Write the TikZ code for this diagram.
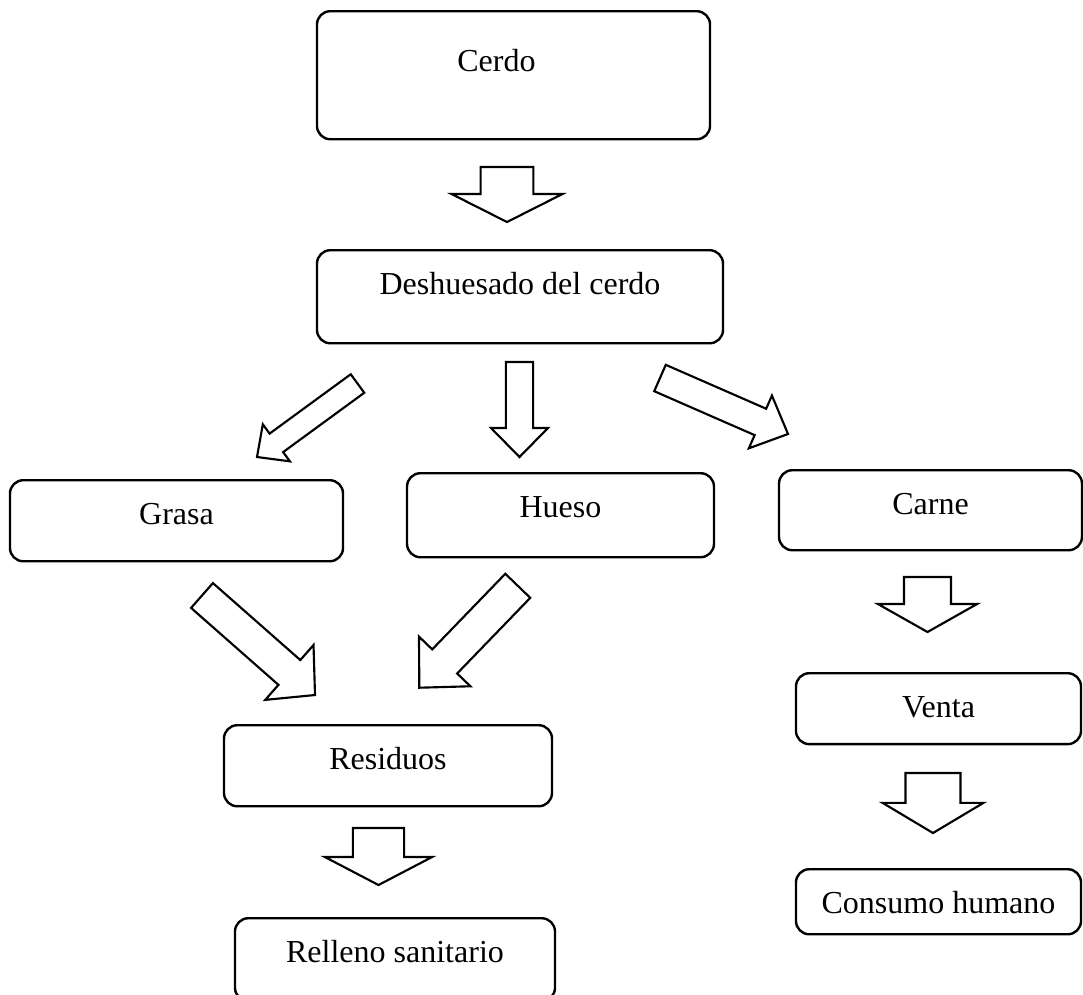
\documentclass[tikz,border=0pt]{standalone}
\usepackage{fontspec}
\setmainfont{Liberation Serif}
\usetikzlibrary{calc}

% block arrow: tail, tip, half shaft, half head, head length
\newcommand{\bigarrow}[5]{%
  \draw[blockarrow] ($(#1)!#3!90:(#2)$) -- ($(#2)!#5!(#1)!#3!-90:(#1)$)
    -- ($(#2)!#5!(#1)!#4!-90:(#1)$) -- (#2)
    -- ($(#2)!#5!(#1)!#4!90:(#1)$) -- ($(#2)!#5!(#1)!#3!90:(#1)$)
    -- ($(#1)!#3!-90:(#2)$) -- cycle;}

\begin{document}
\begin{tikzpicture}[x=0.375pt, y=-0.375pt,
  box/.style={draw, line width=0.9pt, rounded corners=5pt, inner sep=0pt,
    text height=16.5pt, anchor=north, font=\fontsize{12}{14}\selectfont},
  blockarrow/.style={draw, line width=0.8pt, fill=white, line join=miter}]
\useasboundingbox (0,0) rectangle (1083,994);

% boxes
\node[box, minimum width=147.4pt, text height=22.5pt, text depth=25.5pt] (cerdo) at (513.5,10) {Cerdo\hspace*{12.75pt}};
\node[box, minimum width=152.25pt, text depth=18.4pt] (deshuesado) at (520,249) {Deshuesado del cerdo};
\node[box, minimum width=124.9pt, text depth=13.9pt] (grasa) at (176.5,479) {Grasa};
\node[box, minimum width=115.1pt, text depth=15pt] (hueso) at (560.5,472) {Hueso};
\node[box, minimum width=113.6pt, text depth=13.5pt] (carne) at (930.5,469) {Carne};
\node[box, minimum width=123pt, text depth=13.9pt] (residuos) at (388,724) {Residuos};
\node[box, minimum width=120pt, text depth=14.6pt] (relleno) at (395,917) {Relleno sanitario};
\node[box, minimum width=106.9pt, text depth=10.1pt] (venta) at (938.5,672) {Venta};
\node[box, minimum width=106.9pt, text depth=7.9pt] (consumo) at (938.5,868) {Consumo humano};

% arrows
\coordinate (cd1) at (507,167);      \coordinate (cd2) at (507,222);
\coordinate (dh1) at (519.5,362);    \coordinate (dh2) at (519.5,457);
\coordinate (dg1) at (357.5,383.5);  \coordinate (dg2) at (257,457);
\coordinate (dc1) at (660,378);      \coordinate (dc2) at (788,434);
\coordinate (gr1) at (202,595.5);    \coordinate (gr2) at (315,695);
\coordinate (hr1) at (517.8,585.8);  \coordinate (hr2) at (419.3,687.7);
\coordinate (cv1) at (927.5,577);    \coordinate (cv2) at (927.5,632);
\coordinate (vc1) at (933,773);      \coordinate (vc2) at (933,833);
\coordinate (rr1) at (378.5,828);    \coordinate (rr2) at (378.5,885);
\bigarrow{cd1}{cd2}{9.9pt}{20.8pt}{10.5pt}
\bigarrow{dh1}{dh2}{5.1pt}{10.7pt}{10.9pt}
\bigarrow{dg1}{dg2}{4.3pt}{8.6pt}{9pt}
\bigarrow{dc1}{dc2}{5.4pt}{10.8pt}{11.3pt}
\bigarrow{gr1}{gr2}{6.2pt}{13.7pt}{12.8pt}
\bigarrow{hr1}{hr2}{6.5pt}{13.4pt}{13.7pt}
\bigarrow{cv1}{cv2}{8.8pt}{18.6pt}{10.5pt}
\bigarrow{vc1}{vc2}{10.3pt}{18.9pt}{11.3pt}
\bigarrow{rr1}{rr2}{9.6pt}{20.1pt}{10.5pt}
\end{tikzpicture}
\end{document}
